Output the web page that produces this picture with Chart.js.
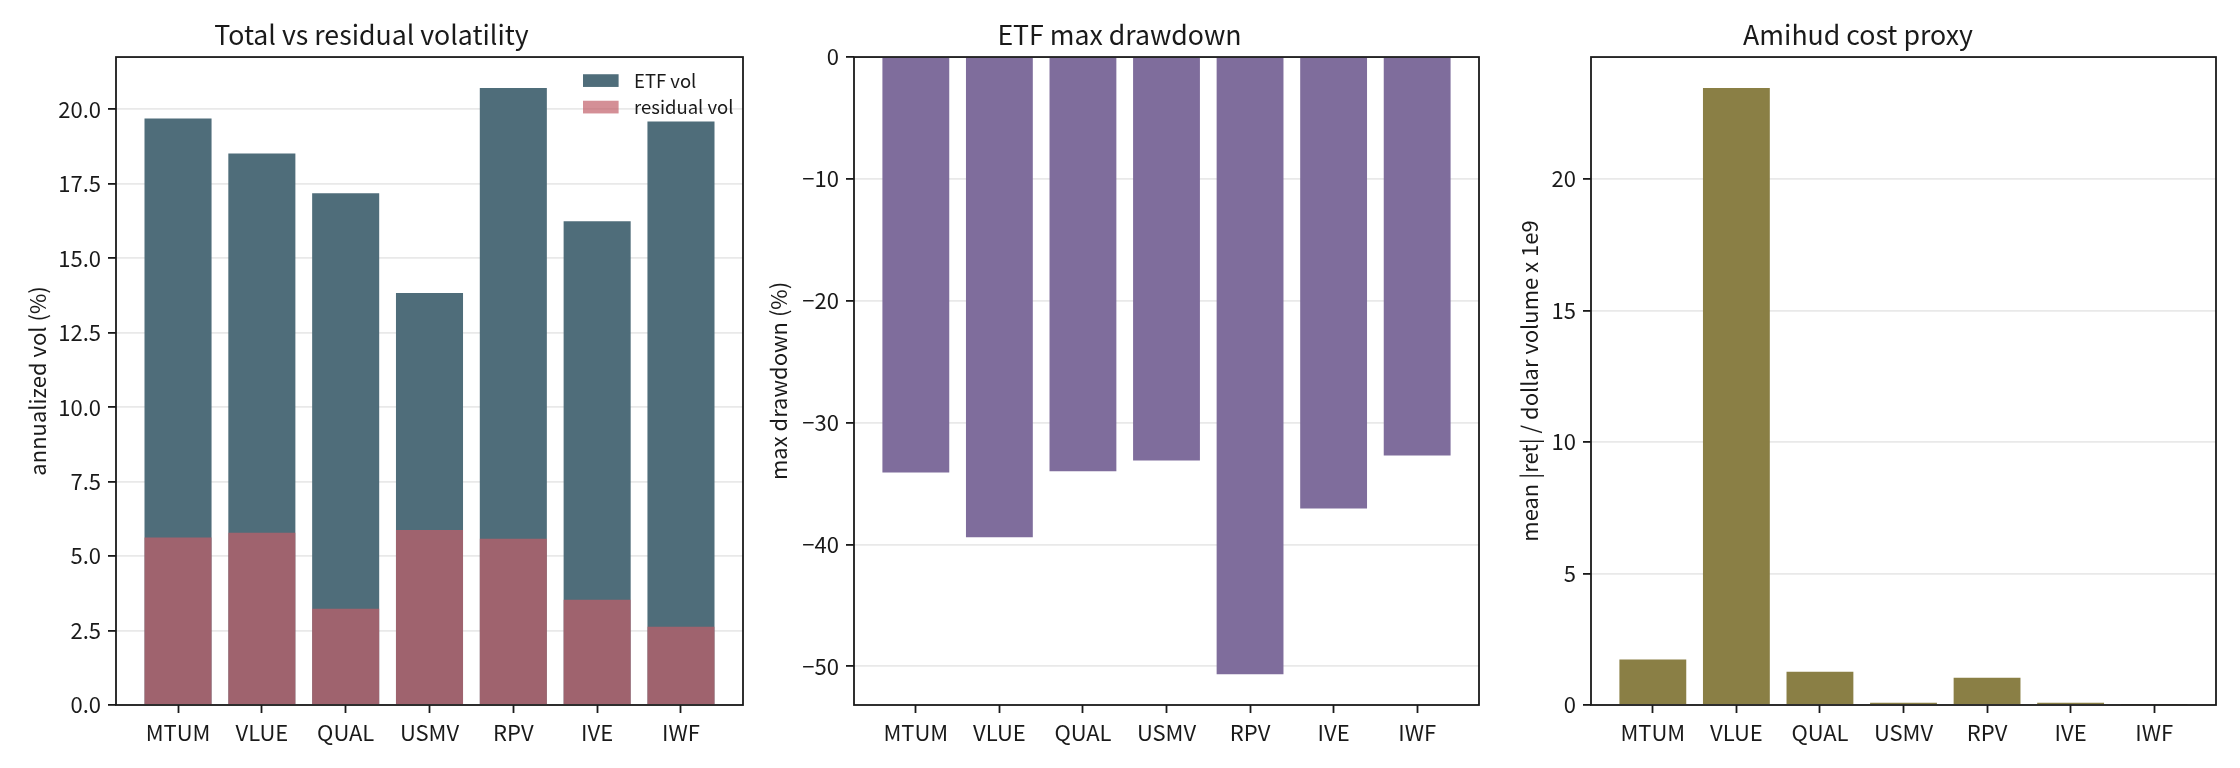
<!DOCTYPE html>
<html>
<head>
<meta charset="utf-8">
<script src="https://cdn.jsdelivr.net/npm/chart.js@4.4.1/dist/chart.umd.min.js"></script>
<style>
  body { margin: 0; background: #fff; width: 2240px; height: 768px; overflow: hidden; position: relative; }
  .panel { position: absolute; top: 0; height: 768px; }
</style>
</head>
<body>
<div class="panel" style="left:0;width:760px"><canvas id="vol"></canvas></div>
<div class="panel" style="left:760px;width:740px"><canvas id="dd"></canvas></div>
<div class="panel" style="left:1500px;width:740px"><canvas id="ami"></canvas></div>
<script>
// tickers on the x axis of every panel
var tickers = ['MTUM', 'VLUE', 'QUAL', 'USMV', 'RPV', 'IVE', 'IWF'];

// annualized vol (%)
var etfVol = [19.69, 18.52, 17.18, 13.83, 20.72, 16.24, 19.59];
var residualVol = [5.62, 5.78, 3.23, 5.88, 5.58, 3.53, 2.63];

// max drawdown (%)
var maxDrawdown = [-34.1, -39.4, -34.0, -33.1, -50.64, -37.04, -32.7];

// amihud illiquidity x 1e9
var amihud = [1.73, 23.46, 1.26, 0.09, 1.04, 0.09, 0.02];

// y tick positions
var volTicks = [0, 2.5, 5, 7.5, 10, 12.5, 15, 17.5, 20];
var ddTicks = [-50, -40, -30, -20, -10, 0];
var amiTicks = [0, 5, 10, 15, 20];

var FONT = '"Noto Sans CJK JP", "Noto Sans", sans-serif';
var ink = '#1a1a1a';
var gridColor = 'rgba(176,176,176,0.28)';

Chart.defaults.font.family = FONT;
Chart.defaults.color = ink;

function points(values) {
    return values.map(function(v, i) { return { x: i, y: v }; });
}

// axes frame (all four spines) drawn on top
const framePlugin = {
    id: 'frame',
    afterDraw(chart) {
        const a = chart.chartArea;
        const ctx = chart.ctx;
        ctx.save();
        ctx.strokeStyle = ink;
        ctx.lineWidth = 1.8;
        ctx.strokeRect(a.left, a.top, a.right - a.left, a.bottom - a.top);
        ctx.restore();
    }
};

// small legend in the upper right corner of the plot area
const cornerLegend = {
    id: 'cornerLegend',
    afterDraw(chart, args, opts) {
        if (!opts.show) return;
        const a = chart.chartArea;
        const ctx = chart.ctx;
        ctx.save();
        chart.data.datasets.forEach(function(ds, i) {
            const y = a.top + 23.5 + i * 26.5;
            ctx.fillStyle = ds.backgroundColor;
            ctx.fillRect(a.right - 160, y - 6.3, 35.6, 12.7);
            ctx.fillStyle = ink;
            ctx.font = '18.5px ' + FONT;
            ctx.textBaseline = 'middle';
            ctx.textAlign = 'left';
            ctx.fillText(ds.label, a.right - 109, y);
        });
        ctx.restore();
    }
};

function makePanel(id, o) {
    return new Chart(document.getElementById(id), {
        type: 'bar',
        data: { datasets: o.datasets },
        options: {
            responsive: true,
            maintainAspectRatio: false,
            animation: false,
            layout: { padding: { right: o.padRight } },
            plugins: {
                legend: { display: false },
                tooltip: { enabled: false },
                cornerLegend: { show: !!o.legend },
                title: {
                    display: true,
                    text: o.title,
                    color: ink,
                    font: { size: 26.7, weight: 'normal', lineHeight: 1.2 },
                    padding: { top: 19, bottom: 6 }
                }
            },
            scales: {
                x: {
                    type: 'linear',
                    offset: false,
                    min: -0.74,
                    max: 6.74,
                    afterBuildTicks: function(s) {
                        s.ticks = tickers.map(function(t, i) { return { value: i }; });
                    },
                    afterFit: function(s) { s.height = 63; },
                    ticks: {
                        callback: function(v) { return tickers[v]; },
                        font: { size: 22 },
                        color: ink,
                        padding: 6,
                        maxRotation: 0,
                        autoSkip: false
                    },
                    grid: { offset: false, drawOnChartArea: false, tickLength: 8, tickColor: ink, tickWidth: 1.8 },
                    border: { display: false }
                },
                y: {
                    min: o.min,
                    max: o.max,
                    z: 1,
                    afterBuildTicks: function(s) {
                        s.ticks = o.ticks.map(function(v) { return { value: v }; });
                    },
                    afterFit: function(s) { s.width = o.axisWidth; },
                    ticks: {
                        callback: o.fmt,
                        font: { size: 22 },
                        color: ink,
                        padding: 7
                    },
                    grid: { color: gridColor, lineWidth: 1.8, tickLength: 8, tickColor: ink, tickWidth: 1.8 },
                    border: { display: false },
                    title: {
                        display: true,
                        text: o.ylabel,
                        color: ink,
                        font: { size: 22 },
                        padding: { top: o.labelPad, bottom: 0 }
                    }
                }
            }
        },
        plugins: [framePlugin, cornerLegend]
    });
}

makePanel('vol', {
    title: 'Total vs residual volatility',
    ylabel: 'annualized vol (%)',
    legend: true,
    min: 0,
    max: Math.max.apply(null, etfVol) * 1.05,
    ticks: volTicks,
    fmt: function(v) { return v.toFixed(1); },
    axisWidth: 116,
    labelPad: 24,
    padRight: 17,
    datasets: [{
        label: 'ETF vol',
        data: points(etfVol),
        backgroundColor: '#4f6d7a',
        barPercentage: 0.8,
        categoryPercentage: 1,
        grouped: false,
        order: 2
    }, {
        label: 'residual vol',
        data: points(residualVol),
        backgroundColor: 'rgba(194,95,105,0.7)',
        barPercentage: 0.8,
        categoryPercentage: 1,
        grouped: false,
        order: 1
    }]
});

makePanel('dd', {
    title: 'ETF max drawdown',
    ylabel: 'max drawdown (%)',
    min: Math.min.apply(null, maxDrawdown) * 1.05,
    max: 0,
    ticks: ddTicks,
    fmt: function(v) { return v < 0 ? '\u2212' + Math.abs(v) : String(v); },
    axisWidth: 94,
    labelPad: 5.4,
    padRight: 21,
    datasets: [{
        label: 'max drawdown',
        data: points(maxDrawdown),
        backgroundColor: '#7f6d9c',
        barPercentage: 0.8,
        categoryPercentage: 1
    }]
});

makePanel('ami', {
    title: 'Amihud cost proxy',
    ylabel: 'mean |ret| / dollar volume x 1e9',
    min: 0,
    max: Math.max.apply(null, amihud) * 1.05,
    ticks: amiTicks,
    fmt: function(v) { return String(v); },
    axisWidth: 91,
    labelPad: 16.8,
    padRight: 24,
    datasets: [{
        label: 'amihud',
        data: points(amihud),
        backgroundColor: '#8a7f45',
        barPercentage: 0.8,
        categoryPercentage: 1
    }]
});
</script>
</body>
</html>
